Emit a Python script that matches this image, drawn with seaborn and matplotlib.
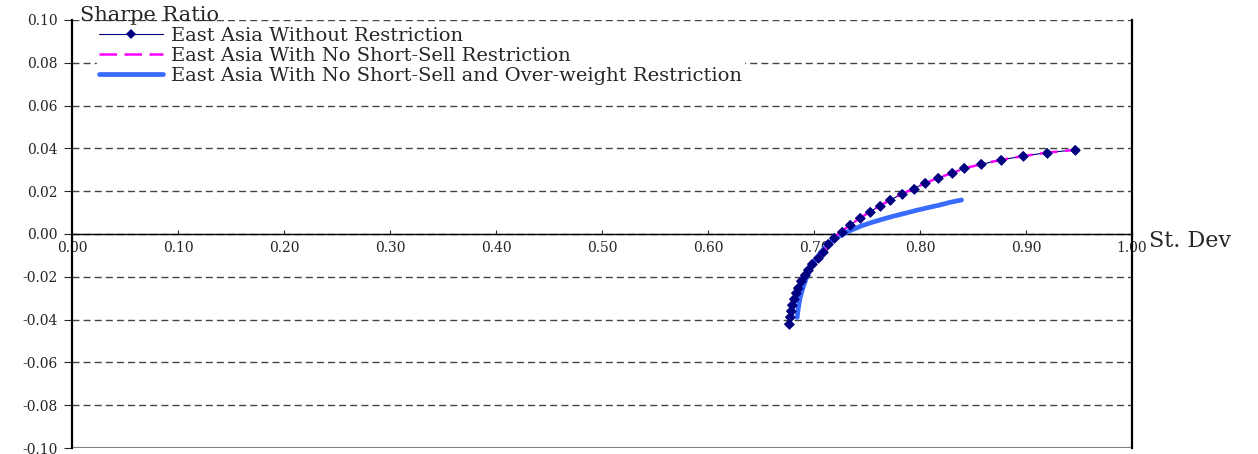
import matplotlib
matplotlib.use("Agg")
import pandas as pd
import seaborn as sns
from matplotlib import pyplot as plt
from matplotlib.ticker import FuncFormatter, MultipleLocator

# East Asia frontier
sd_without = [0.6764, 0.6774, 0.6783, 0.6796, 0.6810, 0.6827, 0.6850, 0.6880,
              0.6915, 0.6946, 0.6985, 0.7035, 0.7090, 0.7135, 0.7190, 0.7260,
              0.7340, 0.7430, 0.7530, 0.7620, 0.7720, 0.7830, 0.7940, 0.8050,
              0.8170, 0.8300, 0.8420, 0.8580, 0.8760, 0.8975, 0.9200, 0.9460]
sr_without = [-0.0420, -0.0386, -0.0360, -0.0332, -0.0304, -0.0277, -0.0251,
              -0.0220, -0.0192, -0.0168, -0.0142, -0.0114, -0.0083, -0.0048,
              -0.0017, 0.0011, 0.0042, 0.0073, 0.0104, 0.0131, 0.0159, 0.0187,
              0.0212, 0.0237, 0.0262, 0.0284, 0.0307, 0.0326, 0.0346, 0.0364,
              0.0380, 0.0393]

sd_no_short = list(sd_without)
sr_no_short = list(sr_without)

sd_no_short_over = [0.6842, 0.6848, 0.6857, 0.6869, 0.6885, 0.6905, 0.6928,
                    0.6955, 0.6986, 0.7021, 0.7061, 0.7107, 0.7160, 0.7220,
                    0.7290, 0.7370, 0.7455, 0.7545, 0.7640, 0.7740, 0.7845,
                    0.7955, 0.8065, 0.8175, 0.8285, 0.8393]
sr_no_short_over = [-0.0390, -0.0363, -0.0332, -0.0300, -0.0270, -0.0238,
                    -0.0207, -0.0176, -0.0146, -0.0116, -0.0088, -0.0062,
                    -0.0038, -0.0016, 0.0004, 0.0022, 0.0039, 0.0054, 0.0068,
                    0.0082, 0.0095, 0.0109, 0.0122, 0.0134, 0.0148, 0.0159]

labels = ["East Asia Without Restriction",
          "East Asia With No Short-Sell Restriction",
          "East Asia With No Short-Sell and Over-weight Restriction"]

sns.set_style("white")
plt.rcParams["font.family"] = ["DejaVu Serif"]
plt.rcParams["axes.unicode_minus"] = False

fig = plt.figure(figsize=(12.58, 4.54), dpi=100)
ax = fig.add_axes([0.0572, 0.0132, 0.8426, 0.9428])

df_a = pd.DataFrame({"sd": sd_without, "sr": sr_without})
df_b = pd.DataFrame({"sd": sd_no_short, "sr": sr_no_short})
df_c = pd.DataFrame({"sd": sd_no_short_over, "sr": sr_no_short_over})

# navy line with diamonds, magenta dashes and blue curve, diamonds on top
sns.lineplot(data=df_a, x="sd", y="sr", sort=False, estimator=None, ax=ax,
             color="#000080", lw=0.8, marker="D", markersize=5,
             markeredgewidth=0, label=labels[0], zorder=3)
sns.lineplot(data=df_b, x="sd", y="sr", sort=False, estimator=None, ax=ax,
             color="#FF00FF", lw=1.8, label=labels[1], zorder=4)
ax.lines[-1].set_dashes((7, 3))
sns.lineplot(data=df_c, x="sd", y="sr", sort=False, estimator=None, ax=ax,
             color="#3A6BFF", lw=3.4, label=labels[2], zorder=3.5)
sns.scatterplot(data=df_a, x="sd", y="sr", ax=ax, color="#000080",
                marker="D", s=30, linewidth=0, zorder=5, legend=False)

ax.set_xlim(0, 1.0)
ax.set_ylim(-0.10, 0.10)
ax.xaxis.set_major_locator(MultipleLocator(0.1))
ax.yaxis.set_major_locator(MultipleLocator(0.02))
fmt = FuncFormatter(lambda v, pos: f"{round(v, 2) + 0.0:.2f}")
ax.xaxis.set_major_formatter(fmt)
ax.yaxis.set_major_formatter(fmt)
ax.set_xlabel("")
ax.set_ylabel("")

ax.grid(axis="y", color="#444444", lw=1.0, ls=(0, (5, 3)), zorder=0)
ax.axhline(-0.10, color="#808080", lw=1.5, zorder=1)
ax.spines["top"].set_visible(False)
ax.spines["bottom"].set_position(("data", 0))
ax.spines["bottom"].set_color("black")
ax.spines["bottom"].set_linewidth(1.0)
ax.spines["left"].set_color("black")
ax.spines["left"].set_linewidth(1.6)
ax.spines["right"].set_color("black")
ax.spines["right"].set_linewidth(1.6)

ax.tick_params(axis="x", direction="in", length=3, width=0.8, pad=5,
               labelsize=10, bottom=True)
ax.tick_params(axis="y", direction="out", length=6, width=0.8, pad=4,
               labelsize=10, left=True)

ax.text(0.0075, 0.998, "Sharpe Ratio", transform=ax.transAxes, fontsize=15,
        ha="left", va="baseline")
ax.text(1.0165, 0.484, "St. Dev", transform=ax.transAxes, fontsize=16,
        ha="left", va="center", clip_on=False)

handles, labs = ax.get_legend_handles_labels()
order = [labs.index(l) for l in labels]
leg = ax.legend([handles[i] for i in order], [labs[i] for i in order],
                loc="upper left", bbox_to_anchor=(0.0236, 0.988),
                borderaxespad=0, borderpad=0.1, fontsize=14, labelspacing=0.1,
                handlelength=3.3, handletextpad=0.4, numpoints=1,
                frameon=True, facecolor="white", edgecolor="white",
                framealpha=1, fancybox=False)
leg.set_zorder(6)

fig.savefig("out.png", dpi=100)
